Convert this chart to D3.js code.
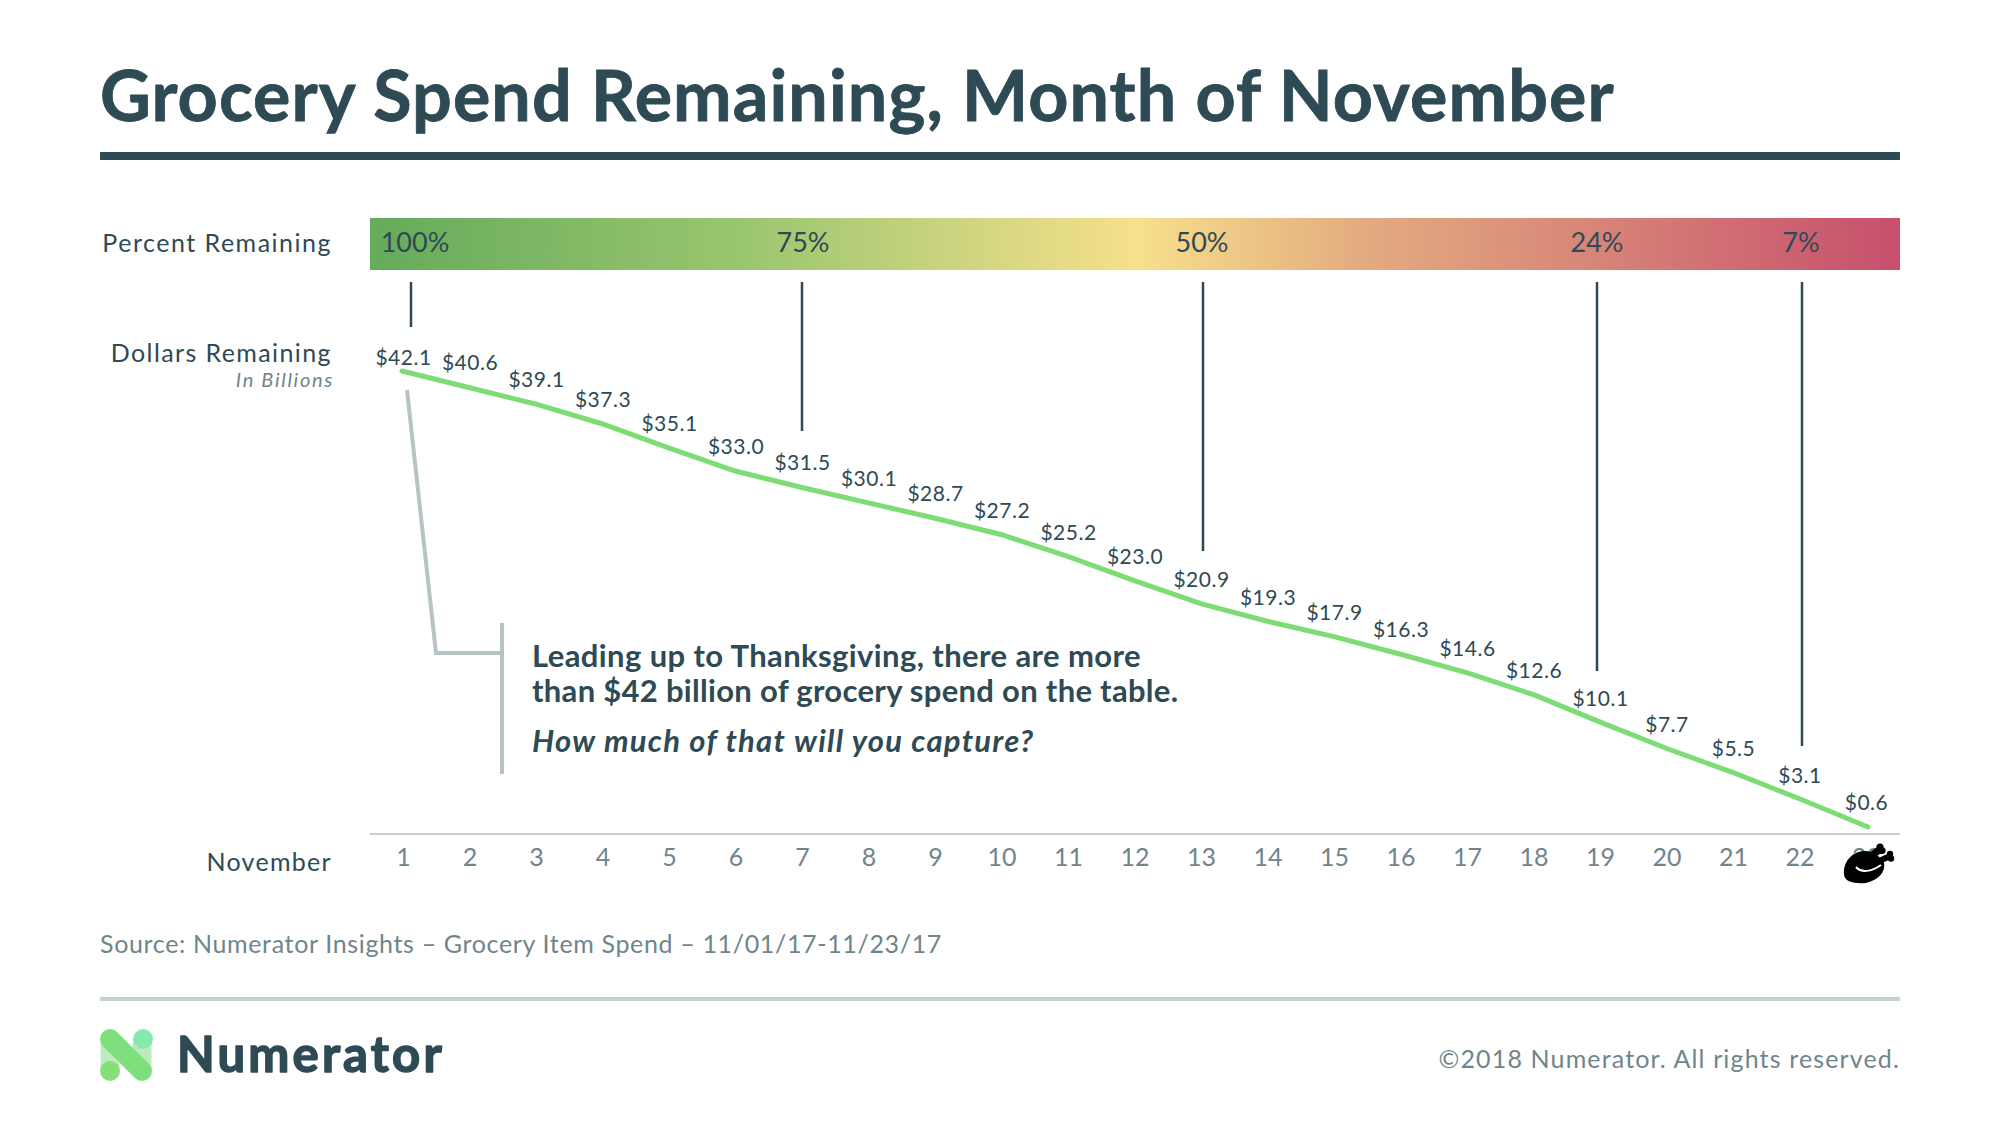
<!DOCTYPE html>
<html><head><meta charset="utf-8">
<script src="https://cdnjs.cloudflare.com/ajax/libs/d3/7.8.5/d3.min.js"></script>
<style>html,body{margin:0;background:#fff}svg{display:block}text{font-family:Lato,sans-serif}</style>
</head><body><svg id="c" width="2000" height="1125"></svg>
<script>
const days = d3.range(1, 24);
const dollars = [42.1,40.6,39.1,37.3,35.1,33.0,31.5,30.1,28.7,27.2,25.2,23.0,20.9,19.3,17.9,16.3,14.6,12.6,10.1,7.7,5.5,3.1,0.6];
const percentLabels = ["100%","75%","50%","24%","7%"];
const gradientOffsets = [0,0.25,0.5,0.65,0.78,1];
const gradientColors = ["#65ab5a","#9cc670","#f7e08b","#e3ab80","#d98a79","#c64f6d"];

const ink = "#2e4a54", muted = "#6f858c", pale = "#b5c3c4", green = "#7ddc74";
const svg = d3.select("#c");
const x = d3.scaleLinear().domain([1,23]).range([402,1868]);
const tickX = d3.scaleLinear().domain([1,22]).range([403.5,1800]);
const y = d3.scaleLinear().domain([0.6,42.1]).range([827,371]);

const text = (s,px,py,size,opt={}) => svg.append("text").attr("x",px).attr("y",py)
  .attr("font-size",size).attr("fill",opt.fill||ink).attr("text-anchor",opt.anchor||"start")
  .attr("font-weight",opt.weight||400).attr("font-style",opt.style||"normal")
  .attr("letter-spacing",opt.ls||0).text(s);

text("Grocery Spend Remaining, Month of November",100,121,70,{weight:700,ls:1.1}).attr("stroke",ink).attr("stroke-width",0.8);
svg.append("rect").attr("x",100).attr("y",152).attr("width",1800).attr("height",8).attr("fill",ink);

const grad = svg.append("defs").append("linearGradient").attr("id","g");
grad.selectAll("stop").data(gradientOffsets).join("stop")
  .attr("offset",d=>d).attr("stop-color",(d,i)=>gradientColors[i]);
svg.append("rect").attr("x",370).attr("y",218).attr("width",1530).attr("height",52).attr("fill","url(#g)");

text("Percent Remaining",332,252,25,{anchor:"end",ls:1.5});
text("Dollars Remaining",332,362,25,{anchor:"end",ls:1.4});
text("In Billions",334,387,20,{anchor:"end",style:"italic",fill:muted,ls:1.7});
text("November",332,871,25,{anchor:"end",ls:1.3});

const pctX = [415,803,1202,1597,1801];
percentLabels.forEach((s,i)=>text(s,pctX[i],252,27,{anchor:"middle"}));

const conn = [[411,327],[802,431],[1203,551],[1597,671],[1802,746]];
conn.forEach(c=>svg.append("line").attr("x1",c[0]).attr("x2",c[0]).attr("y1",282).attr("y2",c[1])
  .attr("stroke",ink).attr("stroke-width",2.5));

svg.append("path").attr("d",d3.line()([[407,390],[436,653],[502,653]])).attr("fill","none").attr("stroke",pale).attr("stroke-width",4);
svg.append("line").attr("x1",502).attr("x2",502).attr("y1",623).attr("y2",774).attr("stroke",pale).attr("stroke-width",4);

svg.append("path").datum(dollars).attr("fill","none").attr("stroke",green).attr("stroke-width",5).attr("stroke-linecap","round")
  .attr("d",d3.line().x((d,i)=>x(days[i])).y(d=>y(d)));
svg.selectAll(".v").data(dollars).join("text").attr("class","v")
  .attr("x",(d,i)=>tickX(days[i])).attr("y",(d,i)=>y(d)-(i==0?6:17))
  .attr("text-anchor","middle").attr("font-size",21).attr("letter-spacing",0.5).attr("fill",ink).text(d=>"$"+d.toFixed(1));

svg.append("line").attr("x1",370).attr("x2",1900).attr("y1",834).attr("y2",834).attr("stroke","#c5d0d1").attr("stroke-width",2);
svg.selectAll(".d").data(days).join("text").attr("class","d").attr("x",d=>tickX(d)).attr("y",866)
  .attr("text-anchor","middle").attr("font-size",25).attr("fill",muted).text(d=>d);

// turkey
const t = svg.append("g").attr("transform","translate(1863,865)");
t.append("path").attr("d","M-19,9 C-20,-4 -10,-14 2,-14 C10,-14 18,-8 21,-2 C23,6 16,15 3,18 C-8,19 -19,17 -19,9Z").attr("fill","#000");
t.append("line").attr("x1",6).attr("y1",-8).attr("x2",16).attr("y2",-15).attr("stroke","#000").attr("stroke-width",7);
t.append("line").attr("x1",12).attr("y1",-2).attr("x2",25).attr("y2",-8).attr("stroke","#000").attr("stroke-width",6);
[[15,-14,3.6],[19,-14.5,3.6],[17,-18,3.6],[27,-11,3.2],[28,-6.5,3.2]].forEach(c=>t.append("circle").attr("cx",c[0]).attr("cy",c[1]).attr("r",c[2]).attr("fill","#000"));
t.append("path").attr("d","M-7,2 C-2,8 8,7 18,0").attr("fill","none").attr("stroke","#fff").attr("stroke-width",2);

text("Leading up to Thanksgiving, there are more",532,667,31,{weight:700,ls:0.4});
text("than $42 billion of grocery spend on the table.",532,702,31,{weight:700,ls:0.3});
text("How much of that will you capture?",532,752,31,{weight:700,style:"italic",ls:1.27});

text("Source: Numerator Insights – Grocery Item Spend – 11/01/17-11/23/17",100,953,25,{fill:muted,ls:0.65});
svg.append("rect").attr("x",100).attr("y",997).attr("width",1800).attr("height",4).attr("fill","#c5d0d1");

// logo
const logo = svg.append("g");
logo.append("line").attr("x1",110).attr("x2",110).attr("y1",1043).attr("y2",1071).attr("stroke","#bfeabb").attr("stroke-width",19);
logo.append("line").attr("x1",142).attr("x2",142).attr("y1",1043).attr("y2",1071).attr("stroke","#bfeabb").attr("stroke-width",19);
logo.append("circle").attr("cx",110).attr("cy",1071).attr("r",10).attr("fill","#86de78");
logo.append("circle").attr("cx",143).attr("cy",1039).attr("r",10).attr("fill","#86eab0");
logo.append("line").attr("x1",110).attr("y1",1039).attr("x2",142).attr("y2",1071).attr("stroke","#7fdf7c").attr("stroke-width",20).attr("stroke-linecap","round");
text("Numerator",177,1072,49,{weight:700,ls:3.2}).attr("stroke",ink).attr("stroke-width",1.5).attr("stroke-linejoin","round");
text("©2018 Numerator. All rights reserved.",1900,1068,25,{anchor:"end",fill:muted,ls:1.14});
</script></body></html>
